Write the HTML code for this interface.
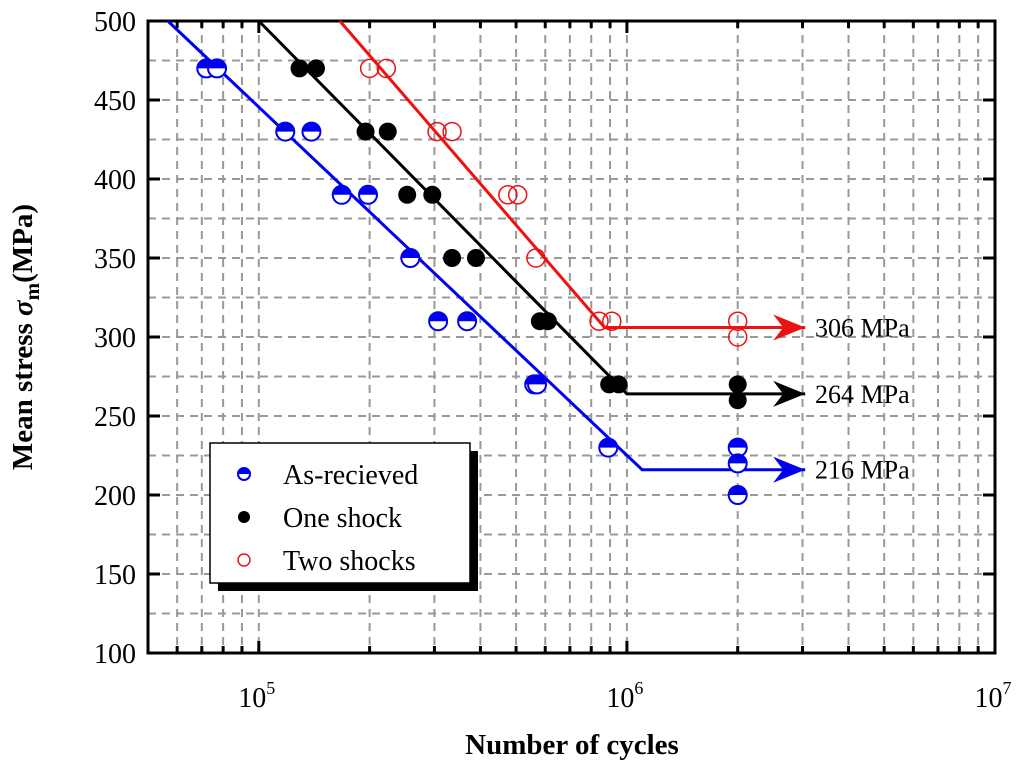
<!DOCTYPE html>
<html><head><meta charset="utf-8">
<style>
body{margin:0;background:#fff;}
svg{display:block;font-family:"Liberation Serif",serif;}
</style></head>
<body>
<svg id="chart" width="1024" height="772"></svg>
<script>
const blueN=[7.2e4,7.7e4,1.18e5,1.39e5,1.68e5,1.98e5,2.58e5,3.07e5,3.68e5,5.6e5,5.7e5,8.9e5,2e6,2e6,2e6];
const blueS=[470,470,430,430,390,390,350,310,310,270,270,230,230,220,200];
const blackN=[1.29e5,1.43e5,1.95e5,2.24e5,2.53e5,2.96e5,3.35e5,3.89e5,5.8e5,6.1e5,8.95e5,9.5e5,2e6,2e6];
const blackS=[470,470,430,430,390,390,350,350,310,310,270,270,270,260];
const redN=[2e5,2.22e5,3.05e5,3.35e5,4.75e5,5.05e5,5.66e5,8.4e5,9.1e5,2e6,2e6];
const redS=[470,470,430,430,390,390,350,310,310,310,300];
const blueLineN=[5.66e4,1.1e6,3.05e6]; const blueLineS=[500,216,216];
const blackLineN=[1e5,1e6,3.05e6]; const blackLineS=[500,264,264];
const redLineN=[1.66e5,8.7e5,3.05e6]; const redLineS=[500,306,306];
const limitLabels=["306 MPa","264 MPa","216 MPa"]; const limitVals=[306,264,216];
const yTicks=[100,150,200,250,300,350,400,450,500];
const xDecades=[5,6,7];

const L=148,R=995,T=21,B=653,XMIN=Math.log10(5e4),XMAX=7,YMIN=100,YMAX=500;
const X=n=>L+(Math.log10(n)-XMIN)/(XMAX-XMIN)*(R-L);
const Y=v=>B-(v-YMIN)/(YMAX-YMIN)*(B-T);
const svg=document.getElementById('chart');
const NS='http://www.w3.org/2000/svg';
function mk(tag,attrs,parent){const e=document.createElementNS(NS,tag);for(const k in attrs)e.setAttribute(k,attrs[k]);(parent||svg).appendChild(e);return e;}

const grid=mk('g',{});


for(let v=YMIN+25;v<YMAX;v+=25){mk('line',{x1:L,x2:R,y1:Y(v),y2:Y(v),stroke:'#999','stroke-width':2,'stroke-dasharray':'8,6'},grid);}
for(let d=4;d<7;d++){for(let m=1;m<10;m++){const n=m*Math.pow(10,d);if(n<=5e4||n>=1e7)continue;mk('line',{x1:X(n),x2:X(n),y1:T,y2:B,stroke:'#999','stroke-width':2,'stroke-dasharray':'8,6'},grid);}}

const ax=mk('g',{});


yTicks.forEach(v=>{mk('line',{x1:L,x2:L+12,y1:Y(v),y2:Y(v),stroke:'#000','stroke-width':3},ax);mk('line',{x1:R,x2:R-12,y1:Y(v),y2:Y(v),stroke:'#000','stroke-width':3},ax);
 const t=mk('text',{x:L-12,y:Y(v)+10,'text-anchor':'end','font-size':28},ax);t.textContent=v;
 
 });
for(let d=4;d<7;d++){for(let m=1;m<10;m++){const n=m*Math.pow(10,d);if(n<5e4||n>1e7)continue;const len=m===1?12:7;mk('line',{x1:X(n),x2:X(n),y1:B,y2:B-len,stroke:'#000','stroke-width':3},ax);mk('line',{x1:X(n),x2:X(n),y1:T,y2:T+len,stroke:'#000','stroke-width':3},ax);}}
xDecades.forEach(d=>{const t=mk('text',{x:X(Math.pow(10,d))-2,y:707,'text-anchor':'middle','font-size':28},ax);t.innerHTML='10<tspan dy="-13" font-size="18">'+d+'</tspan>';
 
 });
mk('rect',{x:L,y:T,width:R-L,height:B-T,fill:'none',stroke:'#000','stroke-width':3},ax);

function fitLine(ns,ss,col,name){const g=mk('g',{});
 
 
 mk('polyline',{points:ns.map((n,i)=>X(n)+','+Y(ss[i])).join(' '),fill:'none',stroke:col,'stroke-width':3},g);
 const ex=X(ns[ns.length-1]),ey=Y(ss[ss.length-1]);
 mk('path',{d:`M${ex},${ey} L${ex-32},${ey-13} L${ex-22},${ey} L${ex-32},${ey+13}Z`,fill:col},g);}
fitLine(blueLineN,blueLineS,'#0000ee','fit-line-as-received');
fitLine(blackLineN,blackLineS,'#000','fit-line-one-shock');
fitLine(redLineN,redLineS,'#ee1111','fit-line-two-shocks');

function pts(ns,ss,type,name){const g=mk('g',{});
 
 
 ns.forEach((n,i)=>{marker(g,X(n),Y(ss[i]),type,9);});}
function marker(g,cx,cy,type,r){
 if(type==='half'){mk('circle',{cx,cy,r,fill:'#fff',stroke:'#0000ee','stroke-width':2},g);mk('path',{d:`M${cx-r},${cy} A${r},${r} 0 0 1 ${cx+r},${cy}Z`,fill:'#0000ee'},g);}
 else if(type==='fill'){mk('circle',{cx,cy,r,fill:'#000'},g);}
 else mk('circle',{cx,cy,r,fill:'none',stroke:'#ee1111','stroke-width':1.5},g);}
pts(blueN,blueS,'half','points-as-received');
pts(blackN,blackS,'fill','points-one-shock');
pts(redN,redS,'open','points-two-shocks');

limitVals.forEach((v,i)=>{const t=mk('text',{x:815,y:Y(v)+9,'font-size':26});t.textContent=limitLabels[i];
 
 });

const lg=mk('g',{});


mk('rect',{x:218,y:451,width:260,height:140,fill:'#000'},lg);
mk('rect',{x:210,y:443,width:260,height:140,fill:'#fff',stroke:'#000','stroke-width':1.5},lg);
const legItems=[['As-recieved','half'],['One shock','fill'],['Two shocks','open']];
legItems.forEach((it,i)=>{const y=475+i*43;marker(lg,244,y-1,it[1],6);const t=mk('text',{x:283,y:y+9,'font-size':28},lg);t.textContent=it[0];
 
 });

const xt=mk('text',{x:572,y:754,'text-anchor':'middle','font-size':29,'font-weight':'bold'});xt.textContent='Number of cycles';


const yt=mk('text',{x:0,y:0,'text-anchor':'middle','font-size':29,'font-weight':'bold',transform:'translate(32,337) rotate(-90)'});
yt.innerHTML='Mean stress <tspan font-style="italic">σ</tspan><tspan dy="7" font-size="21">m</tspan><tspan dy="-7">(MPa)</tspan>';


</script>
</body></html>
